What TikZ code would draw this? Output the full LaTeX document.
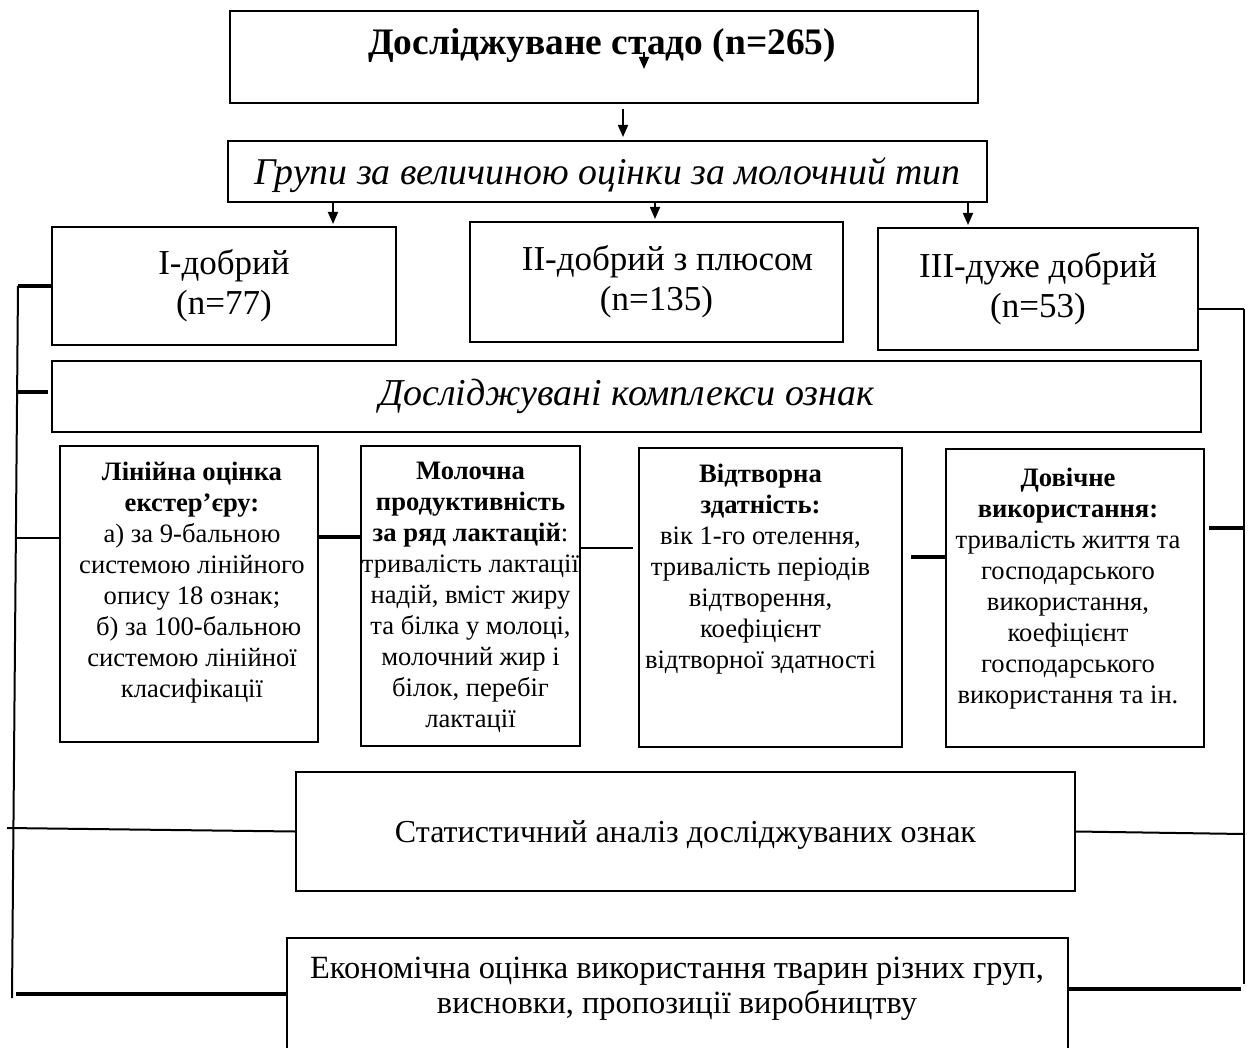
\documentclass[tikz,border=0pt]{standalone}
\usepackage{fontspec}
\setmainfont{Liberation Serif}
\usetikzlibrary{arrows.meta}

\tikzset{
  box/.style={draw, line width=1pt, inner sep=0pt, align=center},
  grp/.style={box, font=\fontsize{17.5}{20}\selectfont},
  ftext/.style={anchor=north, align=center, inner sep=0pt, font=\fontsize{13.3}{15.5}\selectfont},
  link/.style={line width=1pt},
  heavy/.style={line width=1.6pt},
  arr/.style={line width=0.9pt, -{Triangle[length=6pt,width=5pt]}},
}

\begin{document}
\begin{tikzpicture}[x=0.5pt, y=-0.5pt]
    \useasboundingbox (0,0) rectangle (1252,1048);
    \clip (0,0) rectangle (1252,1048);

    % boxes
    \node[box, minimum width=374pt, minimum height=46pt] (herd) at (604,57) {};
    \node[anchor=base, inner sep=0pt, font=\fontsize{18.7}{21}\selectfont\bfseries] (herdtxt) at (602,55) {Досліджуване стадо (n=265)};
    \node[box, minimum width=379.5pt, minimum height=30.5pt, text depth=0pt, font=\fontsize{18.9}{21}\selectfont\itshape] (groups) at (607.5,171.5) {Групи за величиною оцінки за молочний тип};

    \node[grp, minimum width=172pt, minimum height=59pt] (g1) at (224,286) {I-добрий\\(n=77)};
    \node[grp, minimum width=186.5pt, minimum height=60pt] (g2) at (656.5,282) {\hspace*{11pt}II-добрий з плюсом\\(n=135)};
    \node[grp, minimum width=160pt, minimum height=61pt] (g3) at (1038,289) {III-дуже добрий\\(n=53)};

    \node[box, minimum width=574.5pt, minimum height=35.5pt, font=\fontsize{19}{21}\selectfont\itshape] (complex) at (626.5,396.5) {Досліджувані комплекси ознак};

    \node[box, minimum width=129pt, minimum height=148pt] (f1) at (189,594) {};
    \node[box, minimum width=109.5pt, minimum height=150pt] (f2) at (470.5,596) {};
    \node[box, minimum width=131.5pt, minimum height=149.5pt] (f3) at (770.5,597.5) {};
    \node[box, minimum width=129pt, minimum height=149pt] (f4) at (1075,598) {};

    \node[ftext] (t1) at ([xshift=1.5pt, yshift=-8.5pt]f1.north) {\textbf{Лінійна оцінка}\\\textbf{екстер’єру:}\\а) за 9-бальною\\системою лінійного\\опису 18 ознак;\\\ \ б) за 100-бальною\\системою лінійної\\класифікації};
    \node[ftext] (t2) at ([yshift=-8.5pt]f2.north) {\textbf{Молочна}\\\textbf{продуктивність}\\\textbf{за ряд лактацій}:\\тривалість лактації\\надій, вміст жиру\\та білка у молоці,\\молочний жир і\\білок, перебіг\\лактації};
    \node[ftext] (t3) at ([xshift=-5pt, yshift=-8.5pt]f3.north) {\textbf{Відтворна}\\\textbf{здатність:}\\вік 1-го отелення,\\тривалість періодів\\відтворення,\\коефіцієнт\\відтворної здатності};
    \node[ftext] (t4) at ([xshift=-3.5pt, yshift=-10pt]f4.north) {\textbf{Довічне}\\\textbf{використання:}\\тривалість життя та\\господарського\\використання,\\коефіцієнт\\господарського\\використання та ін.};

    \node[box, minimum width=389.5pt, minimum height=59.5pt, text depth=0pt, font=\fontsize{16}{17}\selectfont] (stat) at (685.5,831.5) {Статистичний аналіз досліджуваних ознак};
    \node[box, minimum width=390.5pt, minimum height=61pt] (econ) at (677.5,998.5) {};
    \node[anchor=north, align=center, inner sep=0pt, font=\fontsize{16.2}{17.5}\selectfont] (econtxt) at (677,957) {Економічна оцінка використання тварин різних груп,\\висновки, пропозиції виробництву};

    % arrows
    \coordinate (a0) at (644,52);
    \draw[arr] (a0) -- ++(0,17);
    \coordinate (s1) at ([xshift=9.5pt]herd.south);
    \draw[arr] ([yshift=-2.5pt]s1) -- ([yshift=1.5pt]s1 |- groups.north);
    \foreach \g/\x in {g1/333, g2/655, g3/968} {
        \coordinate (p) at (\x,0);
        \draw[arr] (p |- groups.south) -- ([yshift=1pt]p |- \g.north);
    }

    % left frame
    \coordinate (ltop) at (18,286);
    \coordinate (lbot) at (12,998);
    \draw[link] (ltop) -- (lbot);
    \draw[heavy] (ltop) -- (g1.west);
    \coordinate (lstub) at (17,392);
    \draw[heavy] (lstub) -- ++(31,0);
    \coordinate (lf1) at (17,538);
    \draw[link] (lf1) -- (lf1 -| f1.west);
    \coordinate (lstat) at (7,828);
    \draw[link] (lstat) -- (stat.west);
    \coordinate (lecon) at (16,994);
    \draw[line width=2pt] (lecon) -- (lecon -| econ.west);

    % right frame
    \coordinate (rtop) at (1244,309);
    \coordinate (rbot) at (1244,984);
    \draw[link] (rtop) -- (rbot);
    \draw[link] (rtop) -- (rtop -| g3.east);
    \coordinate (rstub) at (1244,528);
    \draw[heavy] (rstub) -- ++(-35,0);
    \coordinate (rstat) at (1244,834);
    \draw[link] (stat.east) -- (rstat);
    \coordinate (recon) at (1241,989);
    \draw[line width=2pt] (recon) -- (recon -| econ.east);

    % between the feature boxes
    \coordinate (c12) at (318,537);
    \draw[heavy] (c12 -| f1.east) -- (c12 -| f2.west);
    \coordinate (c23) at (633,548);
    \draw[link] (c23 -| f2.east) -- (c23);
    \coordinate (c34) at (911,557);
    \draw[heavy] (c34) -- (c34 -| f4.west);
\end{tikzpicture}
\end{document}
